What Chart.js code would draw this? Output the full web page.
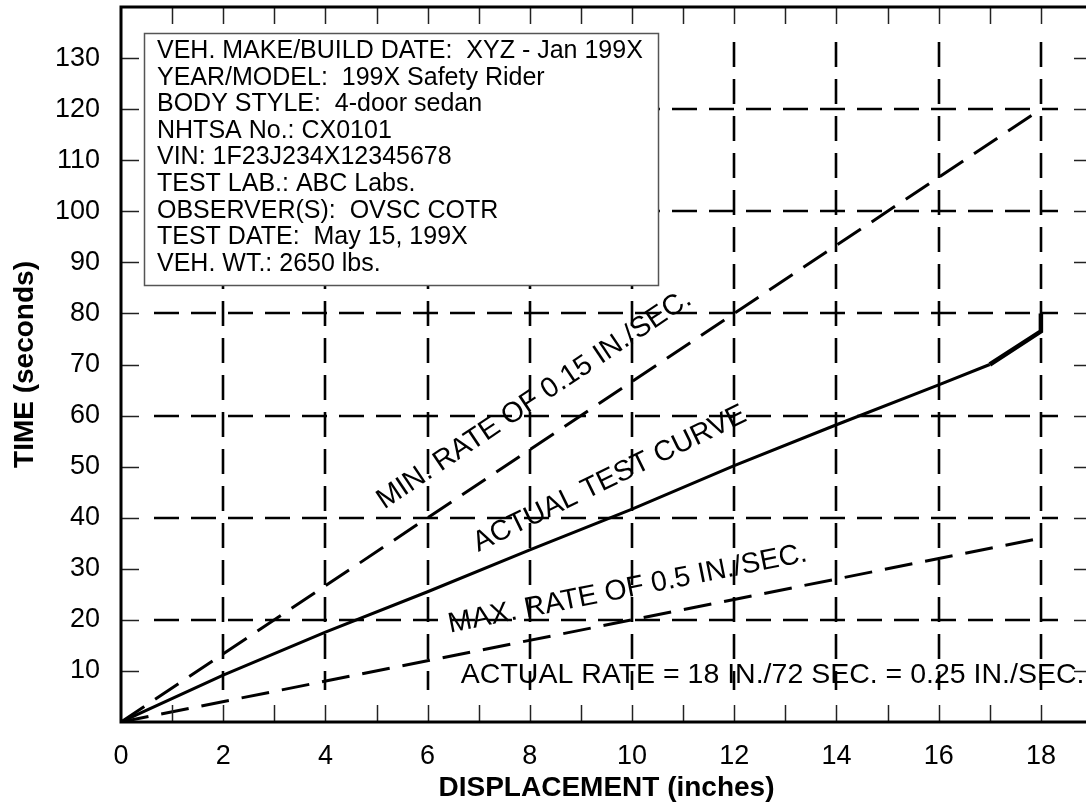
<!DOCTYPE html>
<html><head><meta charset="utf-8">
<script src="https://cdn.jsdelivr.net/npm/chart.js@4.4.1/dist/chart.umd.min.js"></script>
<style>
html,body{margin:0;padding:0;background:#fff;overflow:hidden;width:1086px;height:812px}
#wrap{position:absolute;left:0;top:0;width:1100px;height:812px}
</style></head>
<body><div id="wrap"><canvas id="c"></canvas></div>
<script>
// ---- data ----
const xTickLabels = [0, 2, 4, 6, 8, 10, 12, 14, 16, 18];
const yTickLabels = [10, 20, 30, 40, 50, 60, 70, 80, 90, 100, 110, 120, 130];
const xGridValues = [2, 4, 6, 8, 10, 12, 14, 16, 18];
const yGridValues = [20, 40, 60, 80, 100, 120];
const minRateX = [0, 18];
const minRateY = [0, 120];
const maxRateX = [0, 18];
const maxRateY = [0, 36];
const actualX = [0, 2, 4, 6, 8, 10, 12, 14, 16, 17, 18, 18];
const actualY = [0, 9.2, 17.6, 25.5, 33.7, 41.7, 50.2, 58.2, 66, 70, 76.5, 80];
const infoLines = [
  "VEH. MAKE/BUILD DATE:  XYZ - Jan 199X",
  "YEAR/MODEL:  199X Safety Rider",
  "BODY STYLE:  4-door sedan",
  "NHTSA No.: CX0101",
  "VIN: 1F23J234X12345678",
  "TEST LAB.: ABC Labs.",
  "OBSERVER(S):  OVSC COTR",
  "TEST DATE:  May 15, 199X",
  "VEH. WT.: 2650 lbs."
];
const annotationTexts = [
  "MIN. RATE OF 0.15 IN./SEC.",
  "ACTUAL TEST CURVE",
  "MAX. RATE OF 0.5 IN./SEC.",
  "ACTUAL RATE = 18 IN./72 SEC. = 0.25 IN./SEC."
];
const annotationX = [5.15, 6.99, 6.44, 6.65];
const annotationY = [41.6, 33.3, 17.5, 7.6];
const annotationAngle = [33.8, 26, 11.3, 0];

const FONT = "'Liberation Sans', Arial, Helvetica, sans-serif";
const pts = (xs, ys) => xs.map((x, i) => ({x: x, y: ys[i]}));

const decor = {
  id: 'decor',
  beforeDatasetsDraw(chart) {
    const ctx = chart.ctx, a = chart.chartArea, sx = chart.scales.x, sy = chart.scales.y;
    ctx.save();
    ctx.strokeStyle = '#000';
    ctx.lineWidth = 2.6;
    ctx.setLineDash([25, 12]);
    yGridValues.forEach(v => {
      const py = Math.round(sy.getPixelForValue(v));
      ctx.beginPath(); ctx.moveTo(a.left + 33, py); ctx.lineTo(a.right - 34, py); ctx.stroke();
    });
    xGridValues.forEach(v => {
      const px = Math.round(sx.getPixelForValue(v));
      ctx.beginPath(); ctx.moveTo(px, a.top + 35); ctx.lineTo(px, a.bottom - 32); ctx.stroke();
    });
    ctx.restore();
  },
  afterDatasetsDraw(chart) {
    const ctx = chart.ctx, a = chart.chartArea, sx = chart.scales.x, sy = chart.scales.y;
    ctx.save();
    // annotations
    ctx.fillStyle = '#000';
    ctx.font = '28.5px ' + FONT;
    ctx.textAlign = 'left';
    ctx.textBaseline = 'alphabetic';
    annotationTexts.forEach((t, i) => {
      ctx.save();
      ctx.translate(sx.getPixelForValue(annotationX[i]), sy.getPixelForValue(annotationY[i]));
      ctx.rotate(-annotationAngle[i] * Math.PI / 180);
      ctx.fillText(t, 0, 0);
      ctx.restore();
    });
    // info box
    const bx = 144, by = 33, bw = 514, bh = 252;
    ctx.fillStyle = '#fff';
    ctx.fillRect(bx, by, bw, bh);
    ctx.strokeStyle = '#555';
    ctx.lineWidth = 1.5;
    ctx.strokeRect(bx + 0.5, by + 0.5, bw, bh);
    ctx.fillStyle = '#000';
    ctx.font = '25px ' + FONT;
    infoLines.forEach((t, i) => ctx.fillText(t, 157, 58 + i * 26.6));
    // inward ticks
    ctx.strokeStyle = '#222';
    ctx.lineWidth = 1.5;
    for (let v = 1; v <= 19; v++) {
      const px = Math.round(sx.getPixelForValue(v)) + 0.5;
      ctx.beginPath(); ctx.moveTo(px, a.bottom); ctx.lineTo(px, a.bottom - 17); ctx.stroke();
      ctx.beginPath(); ctx.moveTo(px, a.top); ctx.lineTo(px, a.top + 17); ctx.stroke();
    }
    for (let v = 10; v <= 130; v += 10) {
      const py = Math.round(sy.getPixelForValue(v)) + 0.5;
      ctx.beginPath(); ctx.moveTo(a.left, py); ctx.lineTo(a.left + 18, py); ctx.stroke();
      ctx.beginPath(); ctx.moveTo(a.right, py); ctx.lineTo(a.right - 18, py); ctx.stroke();
    }
    // frame
    ctx.strokeStyle = '#000';
    ctx.lineWidth = 3;
    ctx.strokeRect(a.left, a.top, a.right - a.left, a.bottom - a.top);
    ctx.restore();
  }
};

new Chart(document.getElementById('c'), {
  type: 'scatter',
  data: {
    datasets: [
      {data: pts(minRateX, minRateY), showLine: true, borderColor: '#000', borderWidth: 3, borderDash: [28, 13], pointRadius: 0, fill: false},
      {data: pts(maxRateX, maxRateY), showLine: true, borderColor: '#000', borderWidth: 3, borderDash: [28, 13], pointRadius: 0, fill: false},
      {data: pts(actualX, actualY), showLine: true, borderColor: '#000', borderWidth: 3, pointRadius: 0, fill: false,
       segment: {borderWidth: c => (c.p0DataIndex >= 9 ? 4.5 : 3)}}
    ]
  },
  options: {
    responsive: true,
    maintainAspectRatio: false,
    animation: false,
    events: [],
    layout: {padding: {top: 7, right: 8, left: 0, bottom: 0}},
    plugins: {legend: {display: false}, tooltip: {enabled: false}},
    scales: {
      x: {
        type: 'linear', min: 0, max: 19,
        afterBuildTicks: s => { s.ticks = xTickLabels.map(v => ({value: v})); },
        afterFit: s => { s.height = 90; s.paddingLeft = 0; s.paddingRight = 0; },
        grid: {display: false, drawTicks: false}, border: {display: false},
        ticks: {font: {family: FONT, size: 27}, color: '#000', padding: 18, maxRotation: 0},
        title: {display: true, text: 'DISPLACEMENT (inches)', color: '#000', font: {family: FONT, size: 28, weight: 'bold'}, padding: {top: 0, bottom: 7}}
      },
      y: {
        type: 'linear', min: 0, max: 140,
        afterBuildTicks: s => { s.ticks = yTickLabels.map(v => ({value: v})); },
        afterFit: s => { s.width = 121; s.paddingTop = 0; s.paddingBottom = 0; },
        grid: {display: false, drawTicks: false}, border: {display: false},
        ticks: {font: {family: FONT, size: 27}, color: '#000', padding: 21},
        title: {display: true, text: 'TIME (seconds)', color: '#000', font: {family: FONT, size: 28, weight: 'bold'}, padding: {top: 8, bottom: 0}}
      }
    }
  },
  plugins: [decor]
});
</script>
</body></html>
